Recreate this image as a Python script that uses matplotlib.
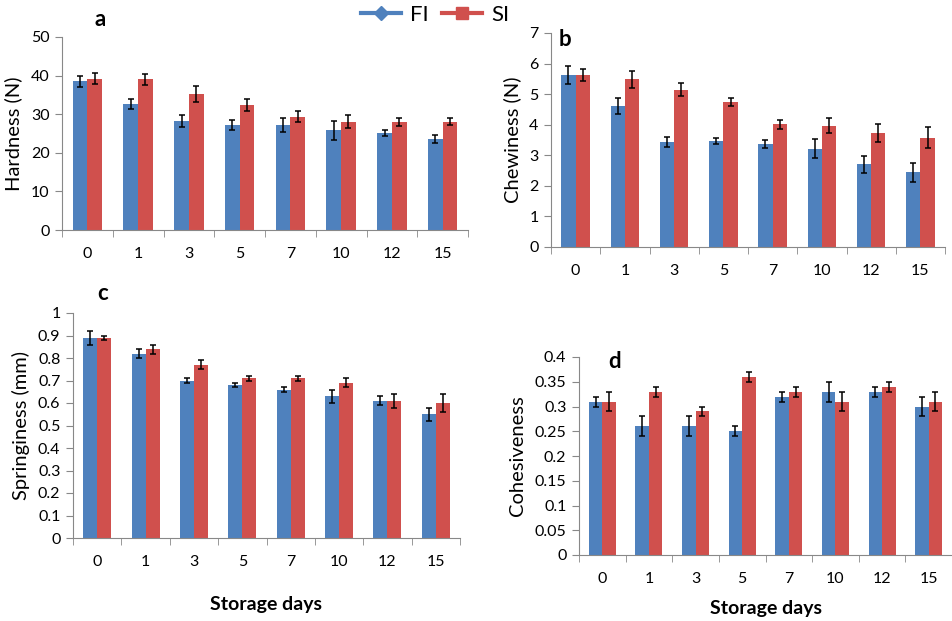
import numpy as np
import matplotlib
matplotlib.use("Agg")
import matplotlib.pyplot as plt
from matplotlib.lines import Line2D

days = ["0", "1", "3", "5", "7", "10", "12", "15"]

hard_fi = [38.5, 32.7, 28.2, 27.2, 27.1, 25.8, 25.2, 23.5]
hard_fi_err = [1.5, 1.3, 1.5, 1.4, 1.8, 2.5, 0.8, 1.0]
hard_si = [39.2, 39.0, 35.2, 32.4, 29.4, 28.0, 28.0, 28.0]
hard_si_err = [1.4, 1.4, 2.0, 1.6, 1.4, 1.7, 1.1, 0.9]

chew_fi = [5.62, 4.61, 3.43, 3.47, 3.37, 3.22, 2.70, 2.44]
chew_fi_err = [0.30, 0.25, 0.17, 0.09, 0.12, 0.32, 0.27, 0.30]
chew_si = [5.62, 5.48, 5.15, 4.75, 4.01, 3.97, 3.72, 3.58]
chew_si_err = [0.20, 0.27, 0.20, 0.13, 0.16, 0.24, 0.30, 0.34]

spr_fi = [0.89, 0.82, 0.70, 0.68, 0.66, 0.63, 0.61, 0.55]
spr_fi_err = [0.03, 0.02, 0.01, 0.01, 0.01, 0.03, 0.02, 0.03]
spr_si = [0.89, 0.84, 0.77, 0.71, 0.71, 0.69, 0.61, 0.60]
spr_si_err = [0.01, 0.02, 0.02, 0.01, 0.01, 0.02, 0.03, 0.04]

coh_fi = [0.31, 0.26, 0.26, 0.25, 0.32, 0.33, 0.33, 0.30]
coh_fi_err = [0.01, 0.02, 0.02, 0.01, 0.01, 0.02, 0.01, 0.02]
coh_si = [0.31, 0.33, 0.29, 0.36, 0.33, 0.31, 0.34, 0.31]
coh_si_err = [0.02, 0.01, 0.01, 0.01, 0.01, 0.02, 0.01, 0.02]

BLUE = "#4F81BD"
RED = "#D0504D"
GRAY = "#888888"

plt.rcParams["font.family"] = ["Lato", "DejaVu Sans"]

W, H = 952, 621
fig = plt.figure(figsize=(W / 100, H / 100), dpi=100)


def px_axes(x0, y0, x1, y1):
    # pixel box -> figure fraction
    return fig.add_axes([x0 / W, 1 - y1 / H, (x1 - x0) / W, (y1 - y0) / H])


def panel(ax, fi, fi_err, si, si_err, ymax, ystep, ylabel, yfmt, xmax=7.5):
    x = np.arange(len(days))
    w = 0.29
    ekw = dict(ecolor="black", elinewidth=1.1, capsize=2.5, capthick=1.1)
    ax.bar(x - w / 2, fi, w, color=BLUE, yerr=fi_err, error_kw=ekw, zorder=2)
    ax.bar(x + w / 2, si, w, color=RED, yerr=si_err, error_kw=ekw, zorder=2)
    ax.set_xlim(-0.5, xmax)
    ax.set_ylim(0, ymax)
    ticks = np.arange(0, ymax + ystep / 2, ystep)
    ax.set_yticks(ticks)
    ax.set_yticklabels([yfmt(t) for t in ticks])
    ax.set_xticks(x)
    ax.set_xticklabels(days)
    ax.set_xticks(np.arange(-0.5, 8, 1), minor=True)
    ax.tick_params(axis="x", which="major", length=0, pad=12, labelsize=11.5)
    ax.tick_params(axis="x", which="minor", length=5, color=GRAY, direction="out")
    ax.tick_params(axis="y", length=5, color=GRAY, labelsize=11.5, pad=4)
    for s in ("top", "right"):
        ax.spines[s].set_visible(False)
    for s in ("left", "bottom"):
        ax.spines[s].set_color(GRAY)
    ax.set_ylabel(ylabel, fontsize=14.5, labelpad=6)


def num(t):
    return "%g" % round(t, 2)


ax_a = px_axes(62, 37, 468, 230)
panel(ax_a, hard_fi, hard_fi_err, hard_si, hard_si_err, 50, 10, "Hardness (N)", num)

ax_b = px_axes(551, 33, 945, 247)
panel(ax_b, chew_fi, chew_fi_err, chew_si, chew_si_err, 7, 1, "Chewiness (N)", num)

ax_c = px_axes(73, 313, 460, 538)
panel(ax_c, spr_fi, spr_fi_err, spr_si, spr_si_err, 1.0, 0.1, "Springiness (mm)", num)
ax_c.set_xlabel("Storage days", fontsize=14, fontweight="bold", labelpad=20)

ax_d = px_axes(579, 357, 952, 555)
panel(ax_d, coh_fi, coh_fi_err, coh_si, coh_si_err, 0.4, 0.05, "Cohesiveness", num, xmax=7.44)
ax_d.set_xlabel("Storage days", fontsize=14, fontweight="bold", labelpad=10)

for lab, (px, py) in zip("abcd", [(100, 20), (565, 40), (103, 293), (615, 361)]):
    fig.text(px / W, 1 - py / H, lab, fontsize=16, fontweight="bold", ha="center", va="center")

handles = [
    Line2D([], [], color=BLUE, lw=3, marker="D", markersize=7, label="FI"),
    Line2D([], [], color=RED, lw=3, marker="s", markersize=8, label="SI"),
]
fig.legend(handles=handles, loc="center", bbox_to_anchor=(435 / W, 1 - 15 / H), ncol=2,
           frameon=False, fontsize=16, handlelength=1.8, columnspacing=0.6,
           handletextpad=0.4, borderpad=0)

fig.savefig("out.png", dpi=100)
